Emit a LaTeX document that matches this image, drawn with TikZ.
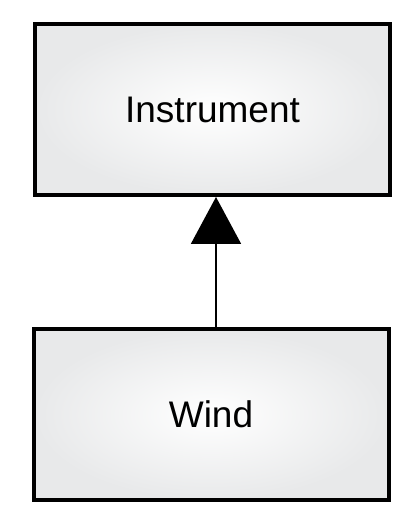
\documentclass[tikz,border=0pt]{standalone}
\usepackage{fontspec}
\setmainfont{Liberation Sans}
\usetikzlibrary{arrows.meta}
\definecolor{edgegray}{HTML}{E8E9EA}
\tikzset{
  classbox/.style={draw=black, line width=4pt, minimum width=355pt, minimum height=171pt,
    inner color=white, outer color=edgegray, font=\fontsize{37}{40}\selectfont},
  inherit/.style={draw=black, line width=2pt, -{Triangle[length=47pt,width=50pt]}}
}
\begin{document}
\begin{tikzpicture}[x=1pt,y=1pt]
\fill[white] (0,0) rectangle (419,524);
\useasboundingbox (0,0) rectangle (419,524);
\node[classbox] (instr) at (212.5,414.5) {\raisebox{-3pt}{Instrument}};
\node[classbox] (wind) at (211,109.5) {Wind};
\draw[inherit] ([xshift=5pt]wind.north) -- ([xshift=3.5pt]instr.south);
\end{tikzpicture}
\end{document}
